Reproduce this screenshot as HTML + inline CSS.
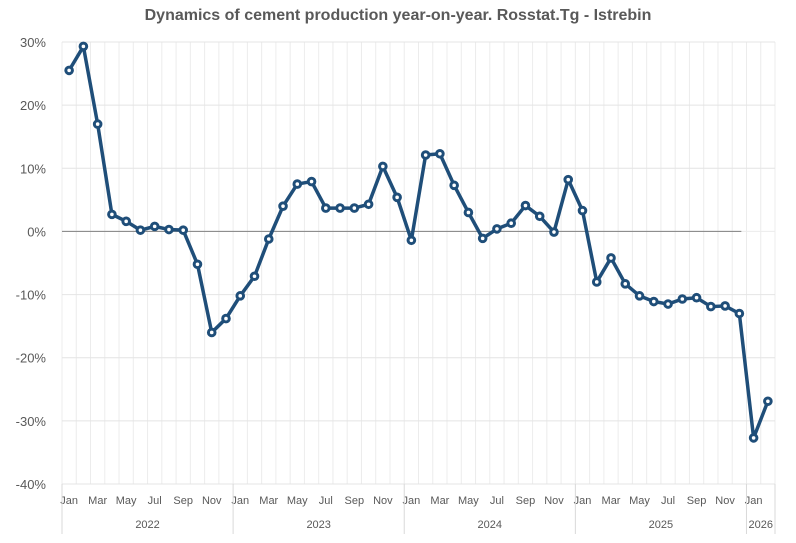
<!DOCTYPE html>
<html><head><meta charset="utf-8"><style>
body{margin:0;background:#fff;}
svg text{font-family:"Liberation Sans",sans-serif;}
</style></head><body>
<svg id="c" width="796" height="538">
<text x="398" y="20" text-anchor="middle" font-size="16" font-weight="bold" fill="#595959">Dynamics of cement production year-on-year. Rosstat.Tg - Istrebin</text>
<g id="grid"></g><g id="axes"></g><g id="series"></g>
</svg>
<script>
const months=["Jan","Feb","Mar","Apr","May","Jun","Jul","Aug","Sep","Oct","Nov","Dec"];
const years=["2022","2023","2024","2025","2026"];
const yTicks=[30,20,10,0,-10,-20,-30,-40];
const values=[25.5,29.3,17,2.7,1.6,0.2,0.8,0.3,0.2,-5.2,-16,-13.8,
-10.2,-7.1,-1.2,4.0,7.5,7.9,3.7,3.7,3.7,4.3,10.3,5.4,
-1.4,12.1,12.3,7.3,3.0,-1.1,0.4,1.3,4.1,2.4,-0.1,8.2,
3.3,-8.0,-4.2,-8.3,-10.2,-11.1,-11.5,-10.7,-10.5,-11.9,-11.8,-13,
-32.7,-26.9];
const NS="http://www.w3.org/2000/svg";
const x0=62,step=14.26,yTop=42,yBot=484;
const X=i=>x0+step*(i+0.5);
const Y=v=>yTop+(30-v)/70*(yBot-yTop);
function mk(t,a,p){const e=document.createElementNS(NS,t);for(const k in a)e.setAttribute(k,a[k]);p.appendChild(e);return e;}
const g=document.getElementById('grid'),ax=document.getElementById('axes'),s=document.getElementById('series');
const n=values.length,xEnd=x0+step*n;
for(let i=0;i<=n;i++){const l=mk('line',{x1:x0+step*i,x2:x0+step*i,y1:yTop,y2:yBot,stroke:'#ececec','stroke-width':1},g);

}
yTicks.forEach(v=>{const l=mk('line',{x1:x0,x2:xEnd,y1:Y(v),y2:Y(v),stroke:v===0?'#ececec':'#e4e4e4'},g);


const t=mk('text',{x:46,y:Y(v)+5,'text-anchor':'end','font-size':13,fill:'#595959'},ax);t.textContent=v+'%';

});
const z=mk('line',{x1:x0,x2:X(47)+2,y1:Y(0),y2:Y(0),stroke:'#808080','stroke-width':1},ax);


for(let i=0;i<n;i+=2){const t=mk('text',{x:X(i),y:504,'text-anchor':'middle','font-size':11,fill:'#595959'},ax);t.textContent=months[i%12];

}
years.forEach((yr,k)=>{const a=x0+step*12*k,b=Math.min(x0+step*12*(k+1),xEnd);
const l=mk('line',{x1:a,x2:a,y1:yBot,y2:534,stroke:'#d9d9d9'},ax);


const t=mk('text',{x:(a+b)/2,y:528,'text-anchor':'middle','font-size':11,fill:'#595959'},ax);t.textContent=yr;

});
const el=mk('line',{x1:xEnd,x2:xEnd,y1:yBot,y2:534,stroke:'#d9d9d9'},ax);


const pts=values.map((v,i)=>X(i)+','+Y(v)).join(' ');
const pl=mk('polyline',{points:pts,fill:'none',stroke:'#1f4e79','stroke-width':3.5,'stroke-linejoin':'round'},s);


values.forEach((v,i)=>{const c=mk('circle',{cx:X(i),cy:Y(v),r:3.3,fill:'#fff',stroke:'#1f4e79','stroke-width':3},s);

});
</script>
</body></html>
